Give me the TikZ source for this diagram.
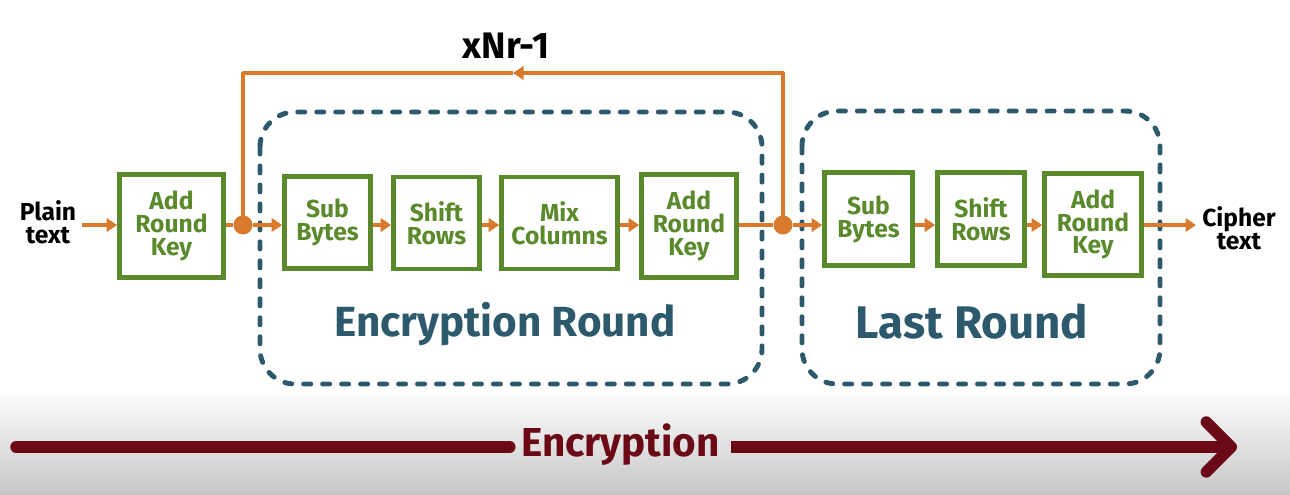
\documentclass[tikz,border=0pt]{standalone}
\usepackage{fontspec}
\setmainfont{Fira Sans}
\usetikzlibrary{arrows.meta}

\definecolor{boxgreen}{HTML}{5A8A2C}
\definecolor{floworange}{HTML}{D9792C}
\definecolor{roundteal}{HTML}{2C5A6C}
\definecolor{encred}{HTML}{6B0A16}

\tikzset{
	opbox/.style={draw=boxgreen, line width=2.6pt, text=boxgreen, align=center,
		font=\fontsize{14}{13}\selectfont\bfseries, inner sep=0pt},
	flowline/.style={floworange, line width=2.2pt, line join=round},
	flow/.style={flowline, -{Triangle[length=6pt,width=7.5pt]}},
	junction/.style={circle, fill=floworange, minimum size=0.38cm, inner sep=0pt},
	roundbox/.style={draw=roundteal, line width=2.8pt, dash pattern=on 4pt off 6.8pt,
		line cap=round, rounded corners=0.7cm},
	roundtitle/.style={text=roundteal, font=\fontsize{24}{24}\selectfont\bfseries},
	endlabel/.style={align=center, font=\fontsize{14}{13}\selectfont\bfseries},
	encline/.style={encred, line width=6.5pt}
}

\begin{document}
	\begin{tikzpicture}[x=0.02cm, y=-0.02cm]
		\useasboundingbox (0,0) rectangle (1290,494);
		\shade[top color=white, bottom color=black!22] (0,390) rectangle (1290,494);
		
		% Runden
		\draw[roundbox] (260,112) rectangle (762,384);
		\draw[roundbox] (802,111) rectangle (1160,384);
		\node[roundtitle] (encround) at (505,324) {Encryption Round};
		\node[roundtitle, font=\fontsize{26}{26}\selectfont\bfseries] (lastround) at (972,322) {Last Round};
		
		% Schritte
		\node[endlabel] (plain) at (48,222) {Plain\\text};
		\node[opbox, minimum width=2.08cm, minimum height=2.06cm] (ark0) at (171.5,226) {Add\\Round\\Key};
		\node[junction] (split0) at (243,225) {};
		\node[opbox, minimum width=1.72cm, minimum height=1.84cm] (sub1) at (327.5,222.5) {Sub\\Bytes};
		\node[opbox, minimum width=1.72cm, minimum height=1.84cm] (shift1) at (436.5,223) {Shift\\Rows};
		\node[opbox, minimum width=2.32cm, minimum height=1.84cm] (mix1) at (559.5,223) {Mix\\Columns};
		\node[opbox, minimum width=1.90cm, minimum height=2.06cm] (ark1) at (689,226) {Add\\Round\\Key};
		\node[junction] (split1) at (783,225) {};
		\node[opbox, minimum width=1.76cm, minimum height=1.86cm] (sub2) at (868.5,219) {Sub\\Bytes};
		\node[opbox, minimum width=1.74cm, minimum height=1.86cm] (shift2) at (981,219) {Shift\\Rows};
		\node[opbox, minimum width=1.94cm, minimum height=2.04cm] (ark2) at (1093,224.5) {Add\\Round\\Key};
		\node[endlabel] (cipher) at (1239,228) {Cipher\\text};
		
		\draw[flow] (plain.east |- split0) -- (ark0.west |- split0);
		\draw[flowline] (ark0.east |- split0) -- (split0);
		\draw[flow] (split0) -- (sub1.west |- split0);
		\draw[flow] (sub1.east |- split0) -- (shift1.west |- split0);
		\draw[flow] (shift1.east |- split0) -- (mix1.west |- split0);
		\draw[flow] (mix1.east |- split0) -- (ark1.west |- split0);
		\draw[flowline] (ark1.east |- split1) -- (split1);
		\draw[flow] (split1) -- (sub2.west |- split1);
		\draw[flow] (sub2.east |- split1) -- (shift2.west |- split1);
		\draw[flow] (shift2.east |- split1) -- (ark2.west |- split1);
		\draw[flow] (ark2.east |- split1) -- (cipher.west |- split1);
		
		% Schleife
		\coordinate (loopR) at (783,73);
		\coordinate (loopM) at (513,73);
		\coordinate (loopL) at (243,73);
		\draw[flow] (split1.center) -- (loopR) -- (loopM);
		\draw[flowline] (loopM) -- (loopL) -- (split0.center);
		\node[font=\fontsize{21}{21}\selectfont\bfseries] (rounds) at (506,46) {xNr-1};
		
		% Encryption
		\coordinate (encstart) at (16,447);
		\coordinate (encend) at (1237,447);
		\node[text=encred, font=\fontsize{23}{23}\selectfont\bfseries, inner xsep=0.22cm] (enc) at (620.5,445) {Encryption};
		\draw[encline, line cap=round] (encstart) -- (enc.west |- encstart);
		\draw[encline, -{Straight Barb[length=0.5cm, width=1.0cm, line cap=round, line join=round]}] (enc.east |- encend) -- (encend);
	\end{tikzpicture}
\end{document}
